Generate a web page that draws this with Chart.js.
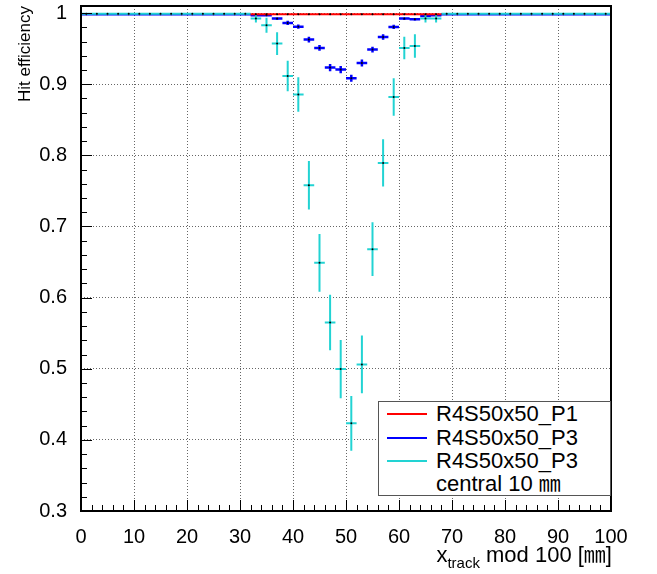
<!DOCTYPE html>
<html>
<head>
<meta charset="utf-8">
<script src="https://cdn.jsdelivr.net/npm/chart.js@4.4.0/dist/chart.umd.min.js"></script>
<style>
  html, body { margin: 0; padding: 0; background: #fff; }
  #wrap { position: relative; width: 657px; height: 574px; }
  #legend {
    position: absolute; left: 378px; top: 401px; width: 233px; height: 95px;
    box-sizing: border-box; border: 1.5px solid #555; background: #fff;
    font-family: 'Liberation Sans', Arial, 'Noto Sans CJK JP', sans-serif; font-size: 22px; color: #000;
  }
  .row { position: absolute; left: 0; right: 0; height: 24px; }
  .sw { position: absolute; left: 8px; width: 40px; height: 2px; top: 11px; }
  .lbl { position: absolute; left: 57px; top: 0; line-height: 24px; white-space: nowrap; }
  #xtitle {
    position: absolute; right: 45px; top: 542px; white-space: nowrap;
    font-family: 'Liberation Sans', Arial, 'Noto Sans CJK JP', sans-serif; font-size: 22px; line-height: 26px; color: #000;
  }
  #xtitle sub { font-size: 15px; vertical-align: -6px; line-height: 0; }
</style>
</head>
<body>
<div id="wrap">
  <canvas id="chart" width="657" height="574"></canvas>
  <div id="legend">
    <div class="row" style="top:0px"><div class="sw" style="background:#ff0000"></div><div class="lbl">R4S50x50_P1</div></div>
    <div class="row" style="top:24px"><div class="sw" style="background:#0000ff"></div><div class="lbl">R4S50x50_P3</div></div>
    <div class="row" style="top:47px"><div class="sw" style="background:#22d3d3"></div><div class="lbl">R4S50x50_P3</div></div>
    <div class="row" style="top:70px"><div class="lbl">central 10 ㎜</div></div>
  </div>
  <div id="xtitle">x<sub>track</sub> mod 100 [㎜]</div>
</div>
<script>
// bin centres (2 mm bins)
const xBins = [1, 3, 5, 7, 9, 11, 13, 15, 17, 19, 21, 23, 25, 27, 29, 31,
               33, 35, 37, 39, 41, 43, 45, 47, 49, 51, 53, 55, 57, 59, 61, 63, 65, 67,
               69, 71, 73, 75, 77, 79, 81, 83, 85, 87, 89, 91, 93, 95, 97, 99];

// R4S50x50_P1 (only filled in the middle)
const p1Eff = [null, null, null, null, null, null, null, null, null, null, null, null, null, null, null, null,
               0.9985, 0.9985, 0.9985, 0.9985, 0.9985, 0.9985, 0.9985, 0.9985, 0.9985, 0.9985, 0.9985, 0.9985, 0.9985, 0.9985, 0.9985, 0.9985, 0.9985, 0.9985,
               null, null, null, null, null, null, null, null, null, null, null, null, null, null, null, null];

// R4S50x50_P3
const p3Eff = [0.9985, 0.9985, 0.9985, 0.9985, 0.9985, 0.9985, 0.9985, 0.9985, 0.9985, 0.9985, 0.9985, 0.9985, 0.9985, 0.9985, 0.9985, 0.9985,
               0.997, 0.997, 0.9923, 0.9862, 0.981, 0.9628, 0.951, 0.9234, 0.9206, 0.9084, 0.9299, 0.9487, 0.9664, 0.9805, 0.9923, 0.9913, 0.996, 0.997,
               0.9985, 0.9985, 0.9985, 0.9985, 0.9985, 0.9985, 0.9985, 0.9985, 0.9985, 0.9985, 0.9985, 0.9985, 0.9985, 0.9985, 0.9985, 0.9985];
const p3Err = [0, 0, 0, 0, 0, 0, 0, 0, 0, 0, 0, 0, 0, 0, 0, 0,
               0.001, 0.001, 0.002, 0.003, 0.003, 0.004, 0.004, 0.005, 0.005, 0.005, 0.005, 0.004, 0.004, 0.003, 0.002, 0.002, 0.001, 0.001,
               0, 0, 0, 0, 0, 0, 0, 0, 0, 0, 0, 0, 0, 0, 0, 0];

// R4S50x50_P3 central 10 mm
const centralEff = [0.9992, 0.9992, 0.9992, 0.9992, 0.9992, 0.9992, 0.9992, 0.9992, 0.9992, 0.9992, 0.9992, 0.9992, 0.9992, 0.9992, 0.9992, 0.9992,
                    0.9923, 0.9829, 0.9572, 0.9116, 0.8855, 0.758, 0.6489, 0.5651, 0.4995, 0.4232, 0.5061, 0.6681, 0.7894, 0.8821, 0.951, 0.9538, 0.9923, 0.9923,
                    0.9992, 0.9992, 0.9992, 0.9992, 0.9992, 0.9992, 0.9992, 0.9992, 0.9992, 0.9992, 0.9992, 0.9992, 0.9992, 0.9992, 0.9992, 0.9992];
const centralErr = [0, 0, 0, 0, 0, 0, 0, 0, 0, 0, 0, 0, 0, 0, 0, 0,
                    0.0054, 0.0105, 0.016, 0.0216, 0.0242, 0.034, 0.0405, 0.039, 0.041, 0.0384, 0.0405, 0.0377, 0.0333, 0.0263, 0.0159, 0.0164, 0.0054, 0.0054,
                    0, 0, 0, 0, 0, 0, 0, 0, 0, 0, 0, 0, 0, 0, 0, 0];

const xTickLabels = ['0', '10', '20', '30', '40', '50', '60', '70', '80', '90', '100'];
const binHalfWidth = 1;

// turn histogram values into error-bar line pieces (gaps break the line)
function errorBars(xs, ys, es) {
  const pts = [];
  xs.forEach((x, i) => {
    const v = ys[i];
    if (v === null) return;
    const e = es ? es[i] : 0;
    pts.push({x: x - binHalfWidth, y: v}, {x: x, y: v, c: true}, {x: x + binHalfWidth, y: v}, {x: x, y: null});
    if (e > 0) pts.push({x: x, y: v - e}, {x: x, y: v + e}, {x: x, y: null});
  });
  return pts;
}

function series(label, data, color, width) {
  return {
    label, data,
    showLine: true, spanGaps: false,
    borderColor: color, borderWidth: width,
    pointRadius: ctx => (ctx.raw && ctx.raw.c ? 1 : 0),
    pointBackgroundColor: '#000', pointBorderWidth: 0,
    borderCapStyle: 'butt'
  };
}

const frameTicks = {
  id: 'frameTicks',
  afterDraw(chart) {
    const {ctx, chartArea: a, scales: {x, y}} = chart;
    ctx.save();
    ctx.strokeStyle = '#000';
    ctx.lineWidth = 1;
    ctx.beginPath();
    for (let i = 0; i <= 50; i++) {
      const px = Math.round(x.getPixelForValue(i * 2)) + 0.5;
      const len = i % 5 === 0 ? 11 : 6;
      ctx.moveTo(px, a.bottom); ctx.lineTo(px, a.bottom - len);
    }
    for (let i = 0; i <= 35; i++) {
      const py = Math.round(y.getPixelForValue(0.3 + i * 0.02)) + 0.5;
      const len = i % 5 === 0 ? 11 : 6;
      ctx.moveTo(a.left, py); ctx.lineTo(a.left + len, py);
    }
    ctx.stroke();
    ctx.lineWidth = 2;
    ctx.strokeRect(a.left, a.top, a.right - a.left, a.bottom - a.top);
    ctx.restore();
  }
};

const font = {family: "'Liberation Sans', Arial, sans-serif", size: 20};

new Chart(document.getElementById('chart'), {
  type: 'scatter',
  data: {
    datasets: [
      series('R4S50x50_P1', errorBars(xBins, p1Eff, null), '#ff0000', 2),
      series('R4S50x50_P3 central 10 mm', errorBars(xBins, centralEff, centralErr), '#22d3d3', 2),
      series('R4S50x50_P3', errorBars(xBins, p3Eff, p3Err), '#0000ff', 2.5)
    ]
  },
  options: {
    responsive: false,
    animation: false,
    layout: {padding: {top: 6, right: 46, left: 0, bottom: 0}},
    plugins: {legend: {display: false}, tooltip: {enabled: false}},
    scales: {
      x: {
        type: 'linear', min: 0, max: 100,
        afterFit: s => { s.height = 63; s.paddingLeft = 0; s.paddingRight = 0; },
        ticks: {
          stepSize: 10, includeBounds: false, autoSkip: false, maxRotation: 0, padding: 14,
          color: '#000', font,
          callback: v => xTickLabels[Math.round(v / 10)]
        },
        grid: {color: '#666', lineWidth: 1, drawTicks: false},
        border: {display: false, dash: [1, 2]}
      },
      y: {
        type: 'linear', min: 0.3, max: 1.01,
        afterFit: s => { s.width = 81; s.paddingTop = 0; s.paddingBottom = 0; },
        ticks: {
          stepSize: 0.1, includeBounds: false, padding: 14,
          color: '#000', font,
          callback: v => (Math.abs(v - 1) < 1e-9 ? '1' : v.toFixed(1))
        },
        grid: {color: '#666', lineWidth: 1, drawTicks: false},
        border: {display: false, dash: [1, 2]},
        title: {display: true, text: 'Hit efficiency', align: 'end', color: '#000',
                font: {family: "'Liberation Sans', Arial, sans-serif", size: 17}, padding: {top: 15, bottom: 0}}
      }
    }
  },
  plugins: [frameTicks]
});
</script>
</body>
</html>
